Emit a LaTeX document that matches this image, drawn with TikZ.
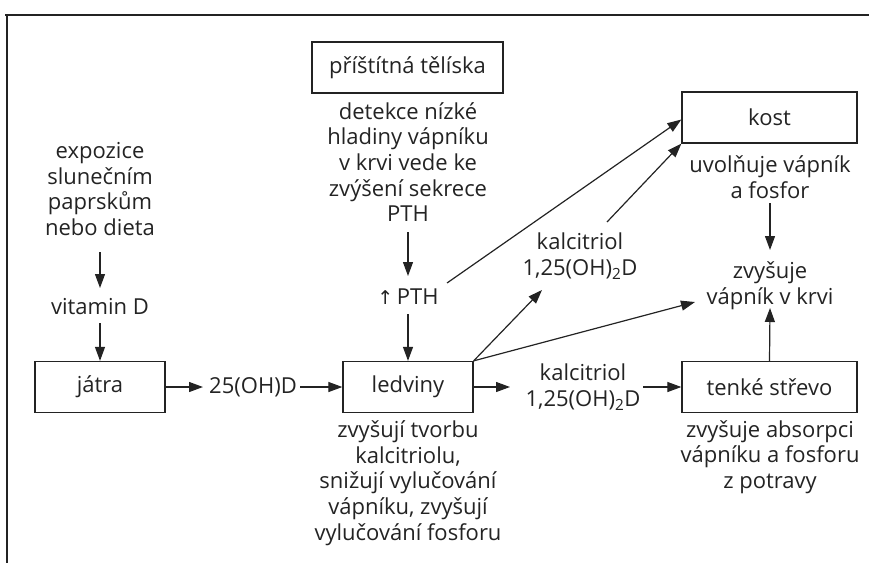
\documentclass[tikz,border=0pt]{standalone}
\usepackage{fontspec}
\setmainfont{Open Sans}
\newfontfamily\arrowfont{DejaVu Sans}
\usetikzlibrary{arrows.meta}
\definecolor{ink}{RGB}{35,35,35}
\begin{document}
\begin{tikzpicture}[x=1pt,y=-1pt,
  every node/.style={font=\fontsize{22}{25.7}\selectfont, text=ink, inner sep=0pt, align=center},
  organ/.style={draw=ink, line width=1.3pt, minimum width=#1, minimum height=51pt},
  arr/.style={draw=ink, line width=1.2pt, -{Triangle[length=14pt,width=10pt]}},
  frame/.style={draw=ink, line width=1.5pt}]
\useasboundingbox (0,0) rectangle (869,563);

% page frame (top and left rules)
\draw[frame] (5,15) -- (869,15);
\draw[frame] (7,15) -- (7,563);

% organs
\node[organ=191pt] (para)   at (407.5,67.5) {příštítná tělíska};
\node[organ=175pt] (kost)   at (769.5,117.5) {kost};
\node[organ=130pt] (jatra)  at (100,387) {játra};
\node[organ=130pt] (ledv)   at (408,387) {ledviny};
\node[organ=175pt] (strevo) at (769.5,387) {tenké střevo};

% labels
\node (expo)    at (100,189) {expozice\\slunečním\\paprskům\\nebo dieta};
\node (vitd)    at (100,307) {vitamin D};
\node (oh)      at (253,387) {25(OH)D};
\node (det)     at (408,162) {detekce nízké\\hladiny vápníku\\v krvi vede ke\\zvýšení sekrece\\PTH};
\node (pth)     at (408,297) {{\arrowfont\fontsize{19}{20}\selectfont ↑}\,PTH};
\node (kalc1)   at (580,256) {kalcitriol\\1,25(OH)\textsubscript{2}D};
\node (kalc2)   at (583,387) {kalcitriol\\1,25(OH)\textsubscript{2}D};
\node (uvol)    at (770,177) {uvolňuje vápník\\a fosfor};
\node (zvys)    at (770,286) {zvyšuje\\vápník v krvi};
\node (ledvcap) at (408,483) {zvyšují tvorbu\\kalcitriolu,\\snižují vylučování\\vápníku, zvyšují\\vylučování fosforu};
\node (strcap)  at (770,457) {zvyšuje absorpci\\vápníku a fosforu\\z potravy};

% connectors
\draw[arr] ([shift={(0,63)}]expo.center) -- ([shift={(0,-19)}]vitd.center);
\draw[arr] ([shift={(0,16)}]vitd.center) -- (jatra.north);
\draw[arr] (jatra.east) -- ([shift={(-50,0)}]oh.center);
\draw[arr] ([shift={(47,0)}]oh.center) -- (ledv.west);
\draw[arr] ([shift={(0,70)}]det.center) -- ([shift={(0,-21)}]pth.center);
\draw[arr] ([shift={(0,17)}]pth.center) -- (ledv.north);
\draw[arr] ([shift={(39,-14)}]pth.center) -- ([shift={(0,2)}]kost.west);
\draw[arr] ([shift={(27,-34)}]kalc1.center) -- (kost.south west);
\draw[arr] (ledv.north east) -- ([shift={(-38,34)}]kalc1.center);
\draw[arr] (ledv.north east) -- ([shift={(-75,16)}]zvys.center);
\draw[arr] (ledv.east) -- ([shift={(-73,0)}]kalc2.center);
\draw[arr] ([shift={(60,0)}]kalc2.center) -- (strevo.west);
\draw[arr] ([shift={(0,26)}]uvol.center) -- ([shift={(0,-36)}]zvys.center);
\draw[arr] (strevo.north) -- ([shift={(0,22)}]zvys.center);
\end{tikzpicture}
\end{document}
